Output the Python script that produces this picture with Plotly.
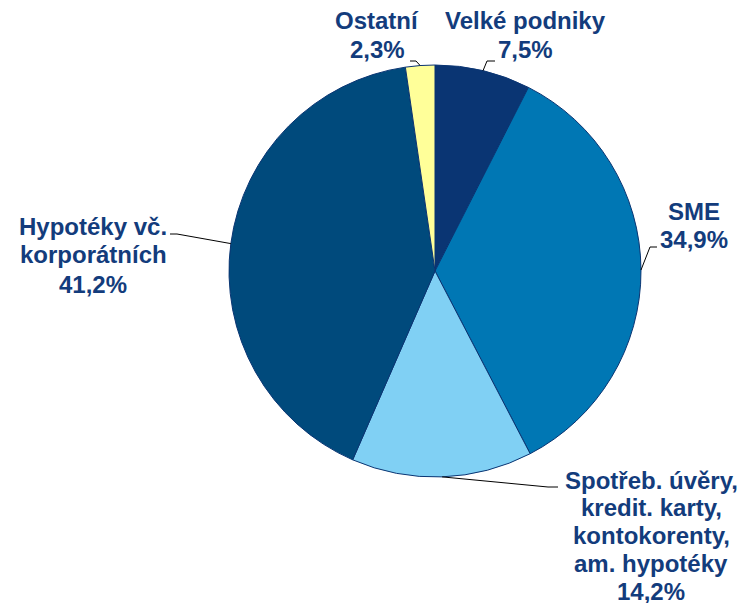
import math
import plotly.graph_objects as go

# ---- data ----
categories = ["Velké podniky", "SME",
              "Spotřeb. úvěry,\nkredit. karty,\nkontokorenty,\nam. hypotéky",
              "Hypotéky vč.\nkorporátních", "Ostatní"]
values = [7.5, 34.9, 14.2, 41.2, 2.3]
value_labels = ["7,5%", "34,9%", "14,2%", "41,2%", "2,3%"]
colors = ["#0a3573", "#0077b4", "#80d0f4", "#004a7c", "#ffff99"]

# ---- layout geometry (pixels) ----
W, H = 740, 603
CX, CY, R = 435, 271, 206
# label block: centre x, first baseline y, line pitch (pixels)
label_pos = [(525, 28, 29), (694, 218, 29), (651, 487, 27.8), (93, 233, 29), (377, 28, 29)]
elbows = [((487, 61), (495, 61)), ((650, 247), (657, 247)), ((548, 487), (558, 487)),
          ((177, 234), (170, 234)), ((416, 61), (410, 61))]
FS = 24

def px(x, y):
    return x / W, 1 - y / H

fig = go.Figure()
fig.add_trace(go.Pie(
    labels=[c.replace("\n", " ") for c in categories], values=values, sort=False,
    direction="clockwise", rotation=0,
    marker=dict(colors=colors, line=dict(color="#0a3573", width=1)),
    textinfo="none", hoverinfo="label+percent", showlegend=False,
    domain=dict(x=[(CX - R) / W, (CX + R) / W], y=[(H - CY - R) / H, (H - CY + R) / H]),
))

total = sum(values)
cum = 0
for i, v in enumerate(values):
    mid = (cum + v / 2) / total * 2 * math.pi
    cum += v
    sx, sy = CX + R * math.sin(mid), CY - R * math.cos(mid)
    (ex, ey), (hx, hy) = elbows[i]
    p0, p1, p2 = px(sx, sy), px(ex, ey), px(hx, hy)
    fig.add_shape(type="path", xref="paper", yref="paper",
                  path=f"M {p0[0]} {p0[1]} L {p1[0]} {p1[1]} L {p2[0]} {p2[1]}",
                  line=dict(color="black", width=1))
    lines = categories[i].split("\n") + [value_labels[i]]
    x0, b0, pitch = label_pos[i]
    for k, t in enumerate(lines):
        lx, ly = px(x0, b0 + k * pitch - 7)
        fig.add_annotation(x=lx, y=ly, xref="paper", yref="paper", showarrow=False,
                           xanchor="center", yanchor="middle", align="center",
                           text=f"<b>{t}</b>",
                           font=dict(family="Liberation Sans, Arial", size=FS, color="#133c7c"))

fig.update_layout(width=W, height=H, margin=dict(l=0, r=0, t=0, b=0),
                  paper_bgcolor="white", plot_bgcolor="white")
fig.write_html("out.html", config={"displayModeBar": False},
               post_script="document.body.style.margin='0';")
